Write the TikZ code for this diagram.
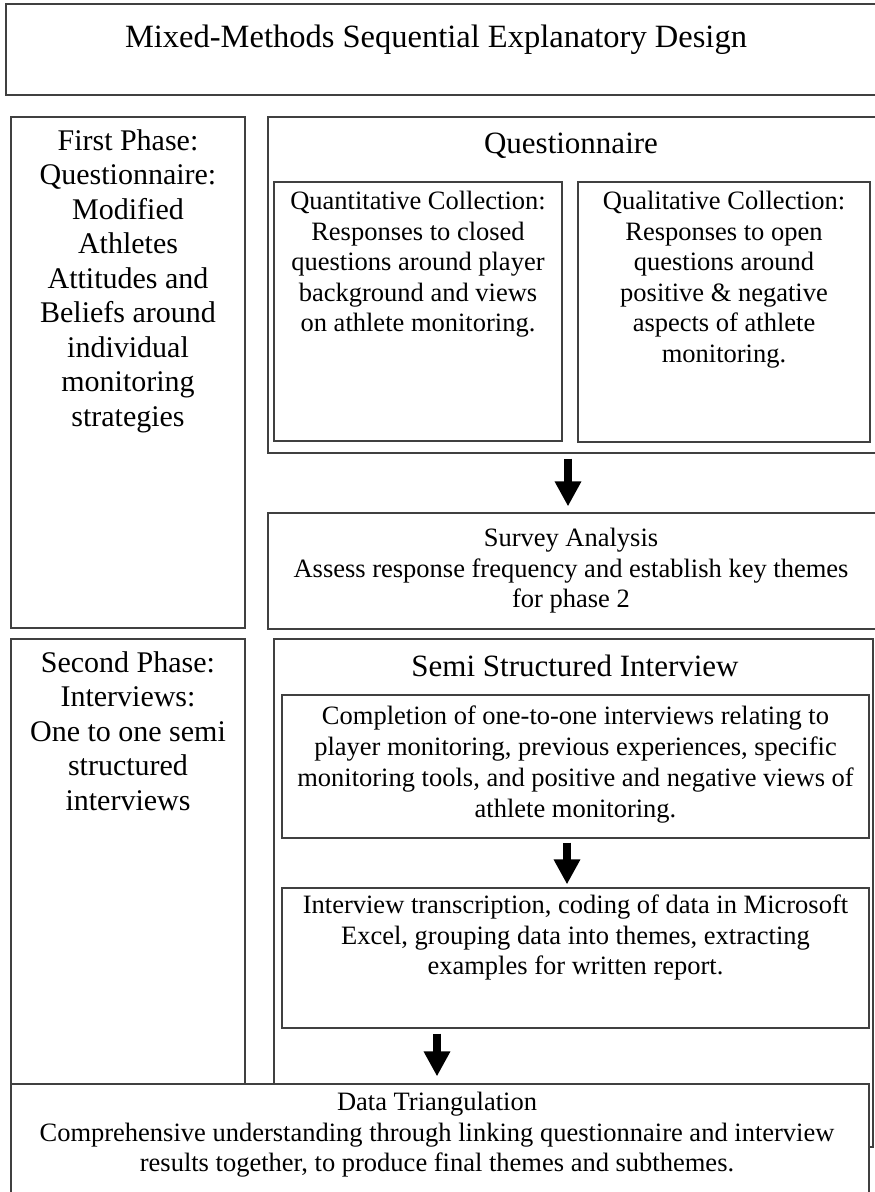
\documentclass[tikz,border=0pt]{standalone}
\usepackage{fontspec}
\setmainfont{Liberation Serif}
\usetikzlibrary{arrows.meta,calc}
\tikzset{
  box/.style={draw=black!75, line width=1.2pt, rectangle, inner sep=0pt},
  txt/.style={inner sep=0pt, align=center},
  bodytxt/.style={txt, font=\fontsize{26.5}{30.5}\selectfont},
  phasetxt/.style={txt, font=\fontsize{30}{34.5}\selectfont},
  headtxt/.style={txt, font=\fontsize{31}{35}\selectfont},
  bigarrow/.style={line width=8pt, -{Triangle[width=25pt,length=25pt]}},
}
\begin{document}
\begin{tikzpicture}[x=1pt,y=-1pt]
\useasboundingbox (0,0) rectangle (875,1192);
% title
\node[box, minimum width=874pt, minimum height=91pt] (titlebox) at (443,49.5) {};
\node[txt, font=\fontsize{32.5}{36}\selectfont] (title) at (436,40) {Mixed-Methods Sequential Explanatory Design};
% phase 1
\node[box, minimum width=234pt, minimum height=511pt] (p1) at (128,372.5) {};
\node[phasetxt, anchor=north] (p1t) at (128,129) {First Phase:\\Questionnaire:\\Modified\\Athletes\\Attitudes and\\Beliefs around\\individual\\monitoring\\strategies};
% questionnaire
\node[box, minimum width=612pt, minimum height=336pt] (q) at (574,285) {};
\node[headtxt] (qh) at (571,146) {Questionnaire};
\node[box, minimum width=288pt, minimum height=259pt] (quant) at (418,311.5) {};
\node[box, minimum width=292pt, minimum height=260pt] (qual) at (724,312) {};
\node[bodytxt, anchor=north] (quantt) at (418,191) {Quantitative Collection:\\Responses to closed\\questions around player\\background and views\\on athlete monitoring.};
\node[bodytxt, anchor=north] (qualt) at (724,191) {Qualitative Collection:\\Responses to open\\questions around\\positive \& negative\\aspects of athlete\\monitoring.};
% survey
\node[box, minimum width=612pt, minimum height=116pt] (survey) at (574,571) {};
\node[bodytxt, anchor=north] (surveyt) at (571,528) {Survey Analysis\\Assess response frequency and establish key themes\\for phase 2};
% phase 2
\node[box, minimum width=234pt, minimum height=461pt] (p2) at (128,869.5) {};
\node[phasetxt, anchor=north] (p2t) at (128,651) {Second Phase:\\Interviews:\\One to one semi\\structured\\interviews};
% semi structured
\node[box, minimum width=599pt, minimum height=508pt] (semi) at (573.5,893) {};
\node[headtxt] (semih) at (575,666) {Semi Structured Interview};
\node[box, minimum width=587pt, minimum height=143pt] (comp) at (575.5,766.5) {};
\node[bodytxt, anchor=north, font=\fontsize{26.5}{31}\selectfont] (compt) at (575.5,706) {Completion of one-to-one interviews relating to\\player monitoring, previous experiences, specific\\monitoring tools, and positive and negative views of\\athlete monitoring.};
\node[box, minimum width=587pt, minimum height=140pt] (inter) at (575.5,958) {};
\node[bodytxt, anchor=north] (intert) at (575.5,895) {Interview transcription, coding of data in Microsoft\\Excel, grouping data into themes, extracting\\examples for written report.};
% data triangulation
\node[box, fill=white, minimum width=858pt, minimum height=120pt] (data) at (440,1144) {};
\node[bodytxt, anchor=north] (datat) at (437,1092) {Data Triangulation\\Comprehensive understanding through linking questionnaire and interview\\results together, to produce final themes and subthemes.};
% arrows
\coordinate (a1) at (568,0);
\coordinate (a2) at (567,0);
\coordinate (a3) at (437,0);
\draw[bigarrow, shorten <=5pt, shorten >=6pt] (q.south -| a1) -- (survey.north -| a1);
\draw[bigarrow, shorten <=4pt, shorten >=3pt] (comp.south -| a2) -- (inter.north -| a2);
\draw[bigarrow, shorten <=5pt, shorten >=7pt] (inter.south -| a3) -- (data.north -| a3);
\end{tikzpicture}
\end{document}
